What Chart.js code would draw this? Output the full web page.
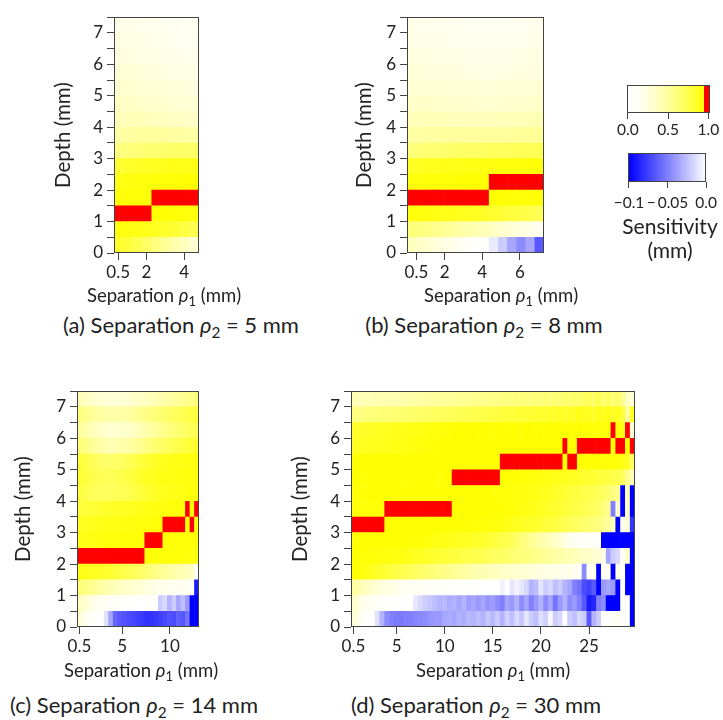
<!DOCTYPE html>
<html><head><meta charset="utf-8">
<script src="https://cdn.jsdelivr.net/npm/chart.js@4.4.0/dist/chart.umd.min.js"></script>
<style>
body{margin:0;background:#fff;}
#fig{position:relative;width:723px;height:720px;overflow:hidden;font-family:Lato,"Noto Sans",sans-serif;color:#222;}
#fig canvas{position:absolute;}
.lbl{position:absolute;white-space:nowrap;transform:translate(-50%,-50%);line-height:1;}
.axt{font-size:18.5px;}
.cap{font-size:22px;}
.cbt{font-size:21px;}
.lbl sub{font-size:70%;vertical-align:-0.3em;line-height:0;}
</style></head><body><div id="fig"></div>
<script>
// depth bin edges (mm), one heatmap row per bin
const DEPTH_EDGES = [0,0.5,1,1.5,2,2.5,3,3.5,4,4.5,5,5.5,6,6.5,7,7.5];

// source-detector separations rho1 (mm), one heatmap column each
const RHO1_A = [0.5,1,1.5,2,2.5,3,3.5,4,4.5];
const RHO1_B = [0.5,1,1.5,2,2.5,3,3.5,4,4.5,5,5.5,6,6.5,7,7.5];
const RHO1_C = [0.5,1,1.5,2,2.5,3,3.5,4,4.5,5,5.5,6,6.5,7,7.5,8,8.5,9,9.5,10,10.5,11,11.5,12,12.5,13,13.5];
const RHO1_D = [0.5,1,1.5,2,2.5,3,3.5,4,4.5,5,5.5,6,6.5,7,7.5,8,8.5,9,9.5,10,10.5,11,11.5,12,12.5,13,13.5,14,14.5,15,
  15.5,16,16.5,17,17.5,18,18.5,19,19.5,20,20.5,21,21.5,22,22.5,23,23.5,24,24.5,25,25.5,26,26.5,27,27.5,28,28.5,29,29.5];

// x tick labels per panel
const TICKS_A = [0.5,2,4];
const TICKS_B = [0.5,2,4,6];
const TICKS_C = [0.5,5,10];
const TICKS_D = [0.5,5,10,15,20,25];

// normalised sensitivity, rows from shallow (0-0.5 mm) to deep (7-7.5 mm)
const SENS_A = [
  [0.84,0.8,0.74,0.68,0.6,0.52,0.45,0.38,0.3],
  [0.92,0.91,0.9,0.88,0.86,0.84,0.81,0.78,0.74],
  [1,1,1,1,0.94,0.94,0.93,0.93,0.92],
  [0.93,0.93,0.93,0.92,1,1,1,1,1],
  [0.9,0.91,0.92,0.92,0.93,0.93,0.93,0.94,0.94],
  [0.82,0.84,0.85,0.86,0.87,0.88,0.89,0.89,0.9],
  [0.6,0.62,0.63,0.64,0.65,0.66,0.67,0.67,0.67],
  [0.48,0.49,0.5,0.5,0.5,0.5,0.49,0.48,0.47],
  [0.4,0.4,0.4,0.39,0.38,0.37,0.36,0.35,0.34],
  [0.35,0.35,0.34,0.33,0.32,0.31,0.3,0.29,0.28],
  [0.31,0.31,0.3,0.29,0.28,0.27,0.26,0.25,0.24],
  [0.27,0.27,0.26,0.25,0.24,0.23,0.22,0.21,0.2],
  [0.24,0.24,0.23,0.22,0.21,0.2,0.19,0.18,0.17],
  [0.21,0.21,0.2,0.19,0.18,0.17,0.16,0.15,0.15],
  [0.18,0.18,0.17,0.16,0.16,0.15,0.14,0.13,0.13]
];

const SENS_B = [
  [0.38,0.34,0.3,0.25,0.2,0.15,0.1,0.06,0.03,-0.008,-0.02,-0.035,-0.045,-0.035,-0.065],
  [0.62,0.6,0.58,0.55,0.52,0.49,0.46,0.43,0.4,0.36,0.32,0.28,0.24,0.2,0.16],
  [0.92,0.92,0.91,0.9,0.89,0.88,0.87,0.86,0.85,0.83,0.81,0.79,0.77,0.75,0.72],
  [1,1,1,1,1,1,1,1,1,0.94,0.94,0.93,0.93,0.93,0.93],
  [0.92,0.92,0.93,0.93,0.93,0.93,0.94,0.94,0.94,1,1,1,1,1,1],
  [0.86,0.87,0.88,0.88,0.89,0.89,0.9,0.9,0.91,0.91,0.92,0.92,0.92,0.93,0.93],
  [0.62,0.63,0.64,0.65,0.66,0.67,0.68,0.68,0.69,0.7,0.7,0.71,0.72,0.72,0.73],
  [0.48,0.48,0.49,0.49,0.5,0.5,0.5,0.5,0.5,0.5,0.5,0.51,0.51,0.52,0.52],
  [0.4,0.4,0.4,0.4,0.4,0.39,0.39,0.39,0.39,0.39,0.4,0.4,0.41,0.41,0.42],
  [0.34,0.34,0.34,0.33,0.33,0.32,0.32,0.31,0.31,0.31,0.32,0.32,0.33,0.33,0.34],
  [0.3,0.3,0.29,0.29,0.28,0.28,0.27,0.27,0.26,0.26,0.27,0.27,0.28,0.28,0.29],
  [0.26,0.26,0.25,0.25,0.24,0.23,0.23,0.22,0.22,0.22,0.22,0.23,0.23,0.24,0.24],
  [0.23,0.23,0.22,0.22,0.21,0.2,0.2,0.19,0.19,0.19,0.19,0.2,0.2,0.21,0.21],
  [0.2,0.2,0.19,0.19,0.18,0.17,0.17,0.16,0.16,0.16,0.16,0.17,0.17,0.18,0.18],
  [0.18,0.18,0.17,0.17,0.16,0.15,0.15,0.14,0.14,0.14,0.14,0.15,0.15,0.16,0.16]
];

const SENS_C = [
  [0.3,0.2,0.12,0.08,0.05,0.03,-0.012,-0.035,-0.06,-0.065,-0.068,-0.07,-0.072,-0.075,-0.078,-0.08,-0.08,-0.078,-0.075,-0.072,-0.068,-0.07,-0.062,-0.066,-0.055,-0.1,-0.1],
  [0.38,0.32,0.26,0.2,0.16,0.12,0.1,0.08,0.07,0.06,0.05,0.04,0.03,0.03,0.02,0.02,0.01,0.0,-0.02,-0.015,-0.03,-0.02,-0.035,-0.025,-0.04,-0.1,-0.1],
  [0.62,0.6,0.57,0.54,0.51,0.48,0.45,0.42,0.39,0.36,0.34,0.32,0.3,0.28,0.26,0.24,0.22,0.2,0.18,0.17,0.16,0.15,0.14,0.13,0.12,0.04,-0.09],
  [0.9,0.89,0.88,0.87,0.86,0.85,0.84,0.82,0.8,0.78,0.76,0.74,0.72,0.7,0.67,0.64,0.61,0.58,0.55,0.52,0.49,0.46,0.44,0.42,0.4,0.36,0.06],
  [1,1,1,1,1,1,1,1,1,1,1,1,1,1,1,0.93,0.93,0.93,0.93,0.93,0.93,0.93,0.93,0.93,0.92,0.92,0.9],
  [0.88,0.89,0.9,0.9,0.91,0.91,0.92,0.92,0.92,0.92,0.93,0.93,0.93,0.93,0.93,1,1,1,1,0.93,0.93,0.93,0.93,0.93,0.93,0.93,0.93],
  [0.86,0.87,0.88,0.88,0.89,0.89,0.9,0.9,0.9,0.91,0.91,0.91,0.92,0.92,0.92,0.92,0.93,0.93,0.93,1,1,1,1,1,0.93,1,0.93],
  [0.8,0.8,0.81,0.82,0.82,0.83,0.84,0.84,0.85,0.86,0.86,0.87,0.88,0.88,0.89,0.9,0.9,0.91,0.91,0.92,0.92,0.93,0.93,0.93,1,0.93,1],
  [0.78,0.76,0.74,0.72,0.71,0.7,0.7,0.7,0.71,0.72,0.73,0.74,0.76,0.78,0.8,0.82,0.84,0.86,0.87,0.88,0.89,0.9,0.9,0.91,0.92,0.92,0.92],
  [0.82,0.8,0.78,0.76,0.74,0.73,0.72,0.72,0.73,0.74,0.76,0.78,0.8,0.82,0.84,0.86,0.87,0.88,0.89,0.9,0.9,0.91,0.91,0.92,0.92,0.92,0.92],
  [0.8,0.78,0.75,0.72,0.7,0.68,0.66,0.66,0.67,0.68,0.7,0.72,0.75,0.78,0.8,0.82,0.84,0.86,0.87,0.88,0.89,0.9,0.9,0.91,0.91,0.92,0.92],
  [0.62,0.6,0.56,0.52,0.49,0.46,0.44,0.43,0.43,0.44,0.46,0.48,0.5,0.53,0.56,0.59,0.62,0.65,0.68,0.7,0.72,0.74,0.76,0.78,0.8,0.82,0.84],
  [0.5,0.47,0.44,0.4,0.37,0.34,0.32,0.3,0.3,0.31,0.32,0.34,0.36,0.39,0.42,0.45,0.48,0.51,0.54,0.57,0.6,0.62,0.64,0.66,0.7,0.72,0.74],
  [0.6,0.58,0.55,0.52,0.5,0.48,0.46,0.45,0.45,0.46,0.47,0.49,0.51,0.53,0.56,0.58,0.6,0.62,0.64,0.66,0.68,0.7,0.72,0.74,0.76,0.78,0.8],
  [0.4,0.38,0.35,0.33,0.31,0.29,0.28,0.27,0.27,0.28,0.29,0.3,0.32,0.34,0.36,0.38,0.4,0.42,0.44,0.46,0.48,0.5,0.52,0.54,0.56,0.58,0.6]
];

const SENS_D = [
  [0.3,0.2,0.1,0.05,0.03, -0.012,-0.03,-0.045,-0.05,-0.052, -0.052,-0.05,-0.05,-0.048,-0.046, -0.045,-0.042,-0.04,-0.04,-0.035, -0.033,-0.035,-0.03,-0.032,-0.028, -0.03,-0.025,-0.03,-0.022,-0.028, -0.02,-0.03,-0.018,-0.025,-0.015, -0.022,-0.01,-0.02,-0.025,-0.012, -0.018,-0.003,-0.02,-0.015,0.0, -0.02,-0.025,-0.015,-0.02,-0.065, -0.03,-0.02,0.03,0.06,0.1, 0.12,0.08,0.1,-0.1],
  [0.35,0.25,0.18,0.14,0.1, 0.08,0.06,0.05,0.04,0.03, 0.02,0.01,0.0,-0.01,-0.015, -0.02,-0.022,-0.025,-0.03,-0.028, -0.032,-0.03,-0.035,-0.03,-0.038, -0.035,-0.04,-0.035,-0.042,-0.038, -0.045,-0.05,-0.035,-0.04,-0.03, -0.045,-0.035,-0.05,-0.04,-0.03, -0.045,-0.035,-0.055,-0.04,-0.03, -0.045,-0.04,-0.05,-0.065,-0.09, -0.085,-0.05,-0.045,-0.1,-0.1, -0.1,0.05,0.03,-0.1],
  [0.5,0.45,0.4,0.36,0.32, 0.28,0.25,0.22,0.2,0.18, 0.16,0.14,0.12,0.11,0.1, 0.09,0.08,0.07,0.06,0.05, 0.05,0.04,0.04,0.03,0.03, 0.02,0.02,0.01,0.01,0.0, 0.0,-0.005,0.0,-0.01,-0.005, -0.01,-0.015,-0.03,-0.025,-0.01, -0.02,-0.015,-0.025,-0.02,-0.03, -0.035,-0.05,-0.055,-0.07,-0.075, -0.065,-0.1,-0.04,-0.035,-0.04, -0.1,0.05,-0.1,-0.1],
  [0.94,0.93,0.92,0.9,0.87, 0.85,0.83,0.81,0.79,0.77, 0.75,0.73,0.71,0.69,0.67, 0.65,0.63,0.61,0.59,0.57, 0.55,0.53,0.51,0.49,0.47, 0.45,0.43,0.42,0.4,0.38, 0.37,0.35,0.34,0.32,0.3, 0.29,0.28,0.26,0.25,0.24, 0.22,0.2,0.22,0.18,0.16, 0.2,0.14,0.1,-0.045,0.15, 0.12,-0.1,0.1,0.15,-0.1, 0.2,0.1,-0.1,-0.1],
  [0.94,0.94,0.94,0.93,0.93, 0.93,0.92,0.92,0.92,0.91, 0.91,0.9,0.88,0.87,0.86, 0.85,0.84,0.83,0.82,0.81, 0.8,0.79,0.78,0.77,0.76, 0.75,0.74,0.73,0.72,0.7, 0.69,0.68,0.66,0.65,0.63, 0.62,0.6,0.58,0.56,0.55, 0.53,0.5,0.48,0.47,0.45, 0.42,0.4,0.38,0.33,0.35, 0.3,0.28,0.2,-0.035,-0.02, -0.015,0.1,0.35,-0.1],
  [0.93,0.94,0.94,0.94,0.94, 0.94,0.94,0.94,0.94,0.94, 0.94,0.94,0.93,0.94,0.93, 0.93,0.92,0.91,0.9,0.9, 0.89,0.88,0.88,0.87,0.86, 0.85,0.84,0.83,0.82,0.8, 0.78,0.76,0.74,0.72,0.68, 0.62,0.58,0.54,0.5,0.46, 0.42,0.38,0.34,0.3,0.22, 0.16,0.12,0.1,0.08,0.1, 0.06,0.08,-0.1,-0.1,-0.1, -0.1,-0.1,-0.1,-0.1],
  [1,1,1,1,1, 1,1,0.94,0.94,0.94, 0.94,0.94,0.94,0.94,0.94, 0.94,0.94,0.94,0.94,0.94, 0.94,0.94,0.93,0.94,0.93, 0.93,0.93,0.93,0.92,0.92, 0.92,0.91,0.9,0.88,0.87, 0.86,0.85,0.84,0.83,0.82, 0.8,0.79,0.78,0.76,0.74, 0.72,0.7,0.68,0.66,0.64, 0.62,0.6,0.55,0.5,0.4, -0.1,0.15,0.3,-0.08],
  [0.92,0.92,0.93,0.93,0.93, 0.93,0.93,1,1,1, 1,1,1,1,1, 1,1,1,1,1, 1,0.94,0.94,0.94,0.94, 0.94,0.94,0.94,0.94,0.94, 0.94,0.93,0.93,0.93,0.92, 0.92,0.9,0.89,0.88,0.87, 0.86,0.84,0.83,0.82,0.8, 0.78,0.77,0.75,0.74,0.72, 0.7,0.68,0.62,0.55,-0.05, 0.3,-0.1,0.35,-0.1],
  [0.93,0.93,0.93,0.94,0.94, 0.94,0.94,0.94,0.94,0.94, 0.94,0.94,0.94,0.94,0.94, 0.94,0.94,0.94,0.94,0.94, 0.94,0.94,0.94,0.94,0.94, 0.94,0.94,0.93,0.94,0.93, 0.93,0.93,0.92,0.93,0.92, 0.92,0.91,0.9,0.9,0.89, 0.88,0.86,0.85,0.84,0.82, 0.8,0.79,0.78,0.76,0.75, 0.74,0.72,0.7,0.66,0.6, 0.55,-0.1,0.4,-0.1],
  [0.94,0.94,0.94,0.93,0.94, 0.94,0.94,0.94,0.94,0.94, 0.94,0.93,0.94,0.94,0.94, 0.94,0.94,0.94,0.93,0.94, 0.94,1,1,1,1, 1,1,1,1,1, 1,0.94,0.94,0.94,0.94, 0.93,0.93,0.92,0.92,0.91, 0.9,0.9,0.89,0.88,0.88, 0.87,0.86,0.85,0.84,0.83, 0.82,0.8,0.79,0.78,0.76, 0.75,0.7,0.55,0.4],
  [0.94,0.94,0.94,0.94,0.94, 0.94,0.94,0.94,0.94,0.94, 0.94,0.94,0.94,0.94,0.94, 0.94,0.94,0.94,0.94,0.94, 0.94,0.94,0.94,0.94,0.94, 0.94,0.94,0.94,0.94,0.94, 0.94,1,1,1,1, 1,1,1,1,1, 1,1,1,1,0.94, 1,1,0.94,0.94,0.94, 0.94,0.94,0.93,0.93,0.93, 0.92,0.9,0.85,0.7],
  [0.86,0.86,0.87,0.87,0.88, 0.88,0.88,0.89,0.89,0.9, 0.9,0.9,0.91,0.91,0.92, 0.92,0.93,0.93,0.94,0.94, 0.94,0.94,0.94,0.94,0.94, 0.94,0.94,0.94,0.94,0.94, 0.94,0.94,0.94,0.94,0.94, 0.94,0.94,0.94,0.94,0.94, 0.94,0.94,0.94,0.94,1, 0.94,0.94,1,1,1, 1,1,1,1,0.94, 1,1,0.94,1],
  [0.84,0.84,0.85,0.85,0.86, 0.86,0.87,0.87,0.88,0.88, 0.89,0.89,0.9,0.9,0.91, 0.91,0.92,0.92,0.93,0.93, 0.93,0.94,0.94,0.94,0.94, 0.94,0.93,0.94,0.94,0.93, 0.94,0.94,0.93,0.94,0.94, 0.93,0.94,0.94,0.93,0.94, 0.94,0.93,0.94,0.94,0.93, 0.94,0.93,0.94,0.93,0.94, 0.93,0.93,0.92,0.92,1, 0.92,0.9,1,0.3],
  [0.62,0.6,0.6,0.61,0.62, 0.62,0.63,0.63,0.64,0.64, 0.65,0.66,0.66,0.67,0.68, 0.68,0.69,0.7,0.7,0.71, 0.72,0.72,0.73,0.74,0.74, 0.75,0.76,0.76,0.77,0.78, 0.78,0.79,0.8,0.8,0.81, 0.82,0.8,0.83,0.81,0.84, 0.82,0.85,0.83,0.86,0.84, 0.87,0.85,0.9,0.86,0.88, 0.84,0.89,0.86,0.9,0.85, 0.88,0.8,0.5,0.85],
  [0.42,0.4,0.4,0.41,0.42, 0.42,0.43,0.43,0.44,0.44, 0.45,0.46,0.46,0.47,0.48, 0.48,0.49,0.5,0.5,0.51, 0.52,0.52,0.53,0.54,0.54, 0.55,0.56,0.56,0.57,0.58, 0.58,0.59,0.6,0.58,0.61, 0.6,0.62,0.59,0.63,0.6, 0.64,0.61,0.65,0.62,0.66, 0.63,0.68,0.64,0.7,0.72, 0.66,0.74,0.65,0.7,0.62, 0.68,0.55,0.35,0.3]
];

// colour-bar ranges and tick labels
const CB_POS_TICKS = [0, 0.5, 1];
const CB_POS_LABELS = ['0.0', '0.5', '1.0'];
const CB_NEG_TICKS = [-0.1, -0.05, 0];
const CB_NEG_LABELS = ['\u22120.1', '\u2212\u20090.05', '0.0'];

const FONT = 'Lato, "Noto Sans", sans-serif';
Chart.defaults.font.family = FONT;
Chart.defaults.color = '#222';
const AXIS_COLOR = '#444';
const TICK_FONT = 17;
const TITLE_FONT = 20.5;
const CB_FONT = 15.5;

// white -> yellow for positive values, red for the peak, white -> blue for negatives
function sensColor(v) {
  if (v >= 0.95) return 'rgb(255,0,0)';
  if (v >= 0) {
    const t = Math.min(v / 0.95, 1);
    const b = Math.round(255 * (1 - Math.pow(t, 1.5)));
    return 'rgb(255,255,' + b + ')';
  }
  const s = Math.min(-v / 0.1, 1);
  const c = Math.round(255 * (1 - s));
  return 'rgb(' + c + ',' + c + ',255)';
}

// dark outline around each plotting box
const framePlugin = {
  id: 'frame',
  afterDatasetsDraw(chart) {
    const a = chart.chartArea, ctx = chart.ctx;
    ctx.save();
    ctx.strokeStyle = AXIS_COLOR;
    ctx.lineWidth = 1;
    ctx.strokeRect(Math.round(a.left) + 0.5, Math.round(a.top) + 0.5,
      Math.round(a.right - a.left) - 1, Math.round(a.bottom - a.top) - 1);
    ctx.restore();
  }
};

const fig = document.getElementById('fig');

function makeCanvas(left, top, w, h) {
  const cv = document.createElement('canvas');
  cv.width = w; cv.height = h;
  cv.style.left = left + 'px'; cv.style.top = top + 'px';
  cv.style.width = w + 'px'; cv.style.height = h + 'px';
  fig.appendChild(cv);
  return cv;
}

function addText(html, cx, cy, cls) {
  const d = document.createElement('div');
  d.className = 'lbl ' + cls;
  d.style.left = cx + 'px';
  d.style.top = cy + 'px';
  d.innerHTML = html;
  fig.appendChild(d);
}

function drawHeatmap(p) {
  const left = Math.max(0, Math.round(p.titleX - (4 + TITLE_FONT * 0.6)));
  const top = p.T - 8;
  const w = p.R - left + 8;
  const h = p.B - top + 34;
  const cv = makeCanvas(left, top, w, h);
  const yWidth = p.L - left;
  new Chart(cv, {
    type: 'bar',
    data: {
      labels: p.rho.map(String),
      datasets: p.rows.map((row, r) => ({
        data: p.rho.map(() => [DEPTH_EDGES[r], DEPTH_EDGES[r + 1]]),
        backgroundColor: row.map(sensColor),
        borderWidth: 0,
        barPercentage: 1,
        categoryPercentage: 1,
        grouped: false
      }))
    },
    options: {
      responsive: false,
      animation: false,
      events: [],
      layout: { padding: { left: 0, top: 8, right: 8, bottom: 0 } },
      plugins: { legend: { display: false }, tooltip: { enabled: false } },
      scales: {
        x: { type: 'category', display: false },
        xt: {
          type: 'linear', position: 'bottom', min: p.xMin, max: p.xMax,
          offset: false,
          afterBuildTicks: s => { s.ticks = p.ticks.map(v => ({ value: v })); },
          afterFit: s => { s.height = 34; },
          ticks: { autoSkip: false, maxRotation: 0, padding: 2, font: { size: TICK_FONT }, color: '#222',
                   callback: v => String(v) },
          grid: { offset: false, drawOnChartArea: false, tickLength: 7, color: AXIS_COLOR },
          border: { display: false }
        },
        y: {
          type: 'linear', min: 0, max: 7.5,
          afterBuildTicks: s => { s.ticks = DEPTH_EDGES.map(v => ({ value: v })); },
          afterFit: s => { s.width = yWidth; },
          ticks: { autoSkip: false, padding: 4, font: { size: TICK_FONT }, color: '#222',
                   callback: v => Number.isInteger(v) ? String(v) : '' },
          grid: { drawOnChartArea: false, tickLength: 7, color: AXIS_COLOR },
          border: { display: false },
          title: { display: true, text: 'Depth (mm)', font: { size: TITLE_FONT }, color: '#222',
                   padding: { top: 4, bottom: 4 } }
        }
      }
    },
    plugins: [framePlugin]
  });
}

function drawColorbar(c) {
  const cv = makeCanvas(c.cl, c.ct, c.cw, c.ch);
  new Chart(cv, {
    type: 'bar',
    data: {
      labels: [''],
      datasets: [{
        data: [[c.min, c.max]],
        borderWidth: 0, barPercentage: 1, categoryPercentage: 1,
        backgroundColor: ctx => {
          const ch = ctx.chart;
          if (!ch.chartArea) return '#fff';
          const sx = ch.scales.x;
          const x0 = sx.getPixelForValue(c.min), x1 = sx.getPixelForValue(c.max);
          const g = ch.ctx.createLinearGradient(x0, 0, x1, 0);
          const n = 300;
          for (let i = 0; i <= n; i++) {
            const v = c.min + (c.max - c.min) * i / n;
            g.addColorStop(i / n, sensColor(v));
          }
          return g;
        }
      }]
    },
    options: {
      indexAxis: 'y',
      responsive: false,
      animation: false,
      events: [],
      layout: { padding: { left: c.L - c.cl, top: c.T - c.ct, right: c.cl + c.cw - c.R, bottom: 0 } },
      plugins: { legend: { display: false }, tooltip: { enabled: false } },
      scales: {
        y: { type: 'category', display: false },
        x: {
          type: 'linear', position: 'bottom', min: c.min, max: c.max, offset: false,
          afterBuildTicks: s => { s.ticks = c.ticks.map(v => ({ value: v })); },
          afterFit: s => { s.height = c.ct + c.ch - c.B; },
          ticks: { autoSkip: false, maxRotation: 0, padding: c.pad, font: { size: CB_FONT }, color: '#222',
                   callback: (v, i) => c.labels[i] },
          grid: { offset: false, drawOnChartArea: false, tickLength: 6, color: AXIS_COLOR },
          border: { display: false }
        }
      }
    },
    plugins: [framePlugin]
  });
}

drawHeatmap({ rho: RHO1_A, rows: SENS_A, ticks: TICKS_A, xMin: 0.28, xMax: 4.78,
  L: 114, R: 199, T: 11, B: 253, titleX: 63 });
drawHeatmap({ rho: RHO1_B, rows: SENS_B, ticks: TICKS_B, xMin: 0.0, xMax: 7.28,
  L: 407, R: 544, T: 11, B: 253, titleX: 364 });
drawHeatmap({ rho: RHO1_C, rows: SENS_C, ticks: TICKS_C, xMin: 0.25, xMax: 13.05,
  L: 77, R: 199, T: 385, B: 627, titleX: 23 });
drawHeatmap({ rho: RHO1_D, rows: SENS_D, ticks: TICKS_D, xMin: 0.25, xMax: 29.78,
  L: 351, R: 635, T: 385, B: 627, titleX: 300 });

drawColorbar({ cl: 598, ct: 78, cw: 125, ch: 64, L: 627, R: 710, T: 85, B: 113,
  min: -0.01, max: 1.02, ticks: CB_POS_TICKS, labels: CB_POS_LABELS, pad: 2 });
drawColorbar({ cl: 598, ct: 146, cw: 125, ch: 70, L: 628, R: 709, T: 153, B: 182,
  min: -0.10125, max: 0, ticks: CB_NEG_TICKS, labels: CB_NEG_LABELS, pad: 6 });

const SEP1 = 'Separation <i>\u03c1</i><sub>1</sub> (mm)';
addText(SEP1, 164, 295, 'axt');
addText(SEP1, 501, 295, 'axt');
addText(SEP1, 141, 670, 'axt');
addText(SEP1, 493, 670, 'axt');
addText('(a) Separation <i>\u03c1</i><sub>2</sub> = 5 mm', 181, 325, 'cap');
addText('(b) Separation <i>\u03c1</i><sub>2</sub> = 8 mm', 484, 325, 'cap');
addText('(c) Separation <i>\u03c1</i><sub>2</sub> = 14 mm', 134, 705, 'cap');
addText('(d) Separation <i>\u03c1</i><sub>2</sub> = 30 mm', 476, 705, 'cap');
addText('Sensitivity', 670, 225, 'cbt');
addText('(mm)', 670, 249, 'cbt');
</script>
</body></html>
